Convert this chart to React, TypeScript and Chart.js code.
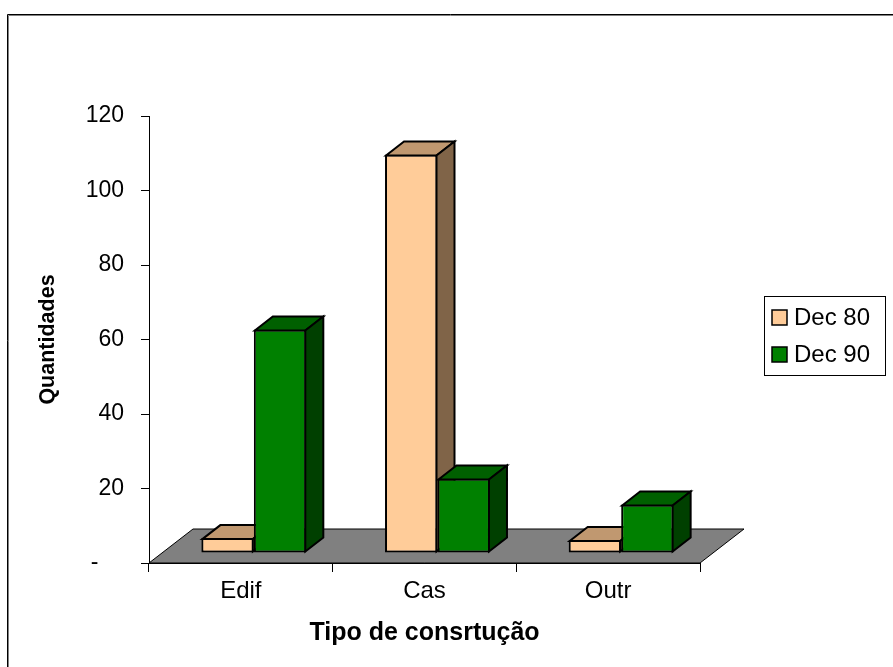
import React, { useEffect, useRef } from 'react';
import { Chart, registerables } from 'chart.js';

Chart.register(...registerables);

// Data
const categories = ['Edif', 'Cas', 'Outr'];
const seriesLabels = ['Dec 80', 'Dec 90'];
const dec80 = [4, 107, 3.5];
const dec90 = [60, 20, 13];
const yTickValues = [0, 20, 40, 60, 80, 100, 120];
const yTitle = 'Quantidades';
const xTitle = 'Tipo de consrtução';

// Styling
const FONT = "'Liberation Sans', Arial, Helvetica, sans-serif";
const FRONT = ['#FFCC99', '#008000'];
const TOP = ['#C09870', '#006000'];
const SIDE = ['#806448', '#004000'];
const FLOOR_DX = 44;
const FLOOR_DY = 34;
const BAR_FX = 13; // shift of bar front faces into the floor depth
const BAR_FY = 10;
const BAR_DX = 18; // bar depth
const BAR_DY = 14;

const threeDPlugin = {
  id: 'threeD',
  beforeDatasetsDraw(chart: any) {
    const { ctx, chartArea: a } = chart;
    ctx.save();
    ctx.beginPath();
    ctx.moveTo(a.left, a.bottom);
    ctx.lineTo(a.right, a.bottom);
    ctx.lineTo(a.right + FLOOR_DX, a.bottom - FLOOR_DY);
    ctx.lineTo(a.left + FLOOR_DX, a.bottom - FLOOR_DY);
    ctx.closePath();
    ctx.fillStyle = '#808080';
    ctx.fill();
    ctx.strokeStyle = '#000';
    ctx.lineWidth = 1;
    ctx.stroke();
    ctx.restore();
  },
  beforeDatasetDraw() {
    // bars are painted below, series by series, with their 3D faces
    return false;
  },
  afterDatasetsDraw(chart: any) {
    const ctx = chart.ctx;
    chart.data.datasets.forEach((_: any, i: number) => {
      const meta = chart.getDatasetMeta(i);
      if (meta.hidden) return;
      ctx.save();
      ctx.translate(BAR_FX, -BAR_FY);
      meta.data.forEach((el: any) => {
        el.draw(ctx, chart.chartArea);
        const { x, y, base, width } = el.getProps(['x', 'y', 'base', 'width'], true);
        const l = x - width / 2 + 1;
        const r = x + width / 2 - 1;
        const t = y + 1;
        const b = base - 1;
        ctx.lineWidth = 2;
        ctx.strokeStyle = '#000';
        ctx.lineJoin = 'miter';
        // top face
        ctx.beginPath();
        ctx.moveTo(l, t);
        ctx.lineTo(l + BAR_DX, t - BAR_DY);
        ctx.lineTo(r + BAR_DX, t - BAR_DY);
        ctx.lineTo(r, t);
        ctx.closePath();
        ctx.fillStyle = TOP[i];
        ctx.fill();
        ctx.stroke();
        // side face
        ctx.beginPath();
        ctx.moveTo(r, t);
        ctx.lineTo(r + BAR_DX, t - BAR_DY);
        ctx.lineTo(r + BAR_DX, b - BAR_DY);
        ctx.lineTo(r, b);
        ctx.closePath();
        ctx.fillStyle = SIDE[i];
        ctx.fill();
        ctx.stroke();
      });
      ctx.restore();
    });
  },
  afterDraw(chart: any) {
    const ctx = chart.ctx;
    ctx.save();
    // outer frame
    ctx.lineWidth = 1;
    ctx.strokeStyle = '#000';
    ctx.beginPath();
    ctx.moveTo(7.5, 667);
    ctx.lineTo(7.5, 14.5);
    ctx.lineTo(893, 14.5);
    ctx.stroke();
    ctx.strokeStyle = '#808080';
    ctx.beginPath();
    ctx.moveTo(8.5, 667);
    ctx.lineTo(8.5, 15.5);
    ctx.lineTo(893, 15.5);
    ctx.stroke();

    // legend
    const lx = 764, ly = 296, lw = 121, lh = 79;
    ctx.fillStyle = '#fff';
    ctx.fillRect(lx, ly, lw, lh);
    ctx.strokeStyle = '#000';
    ctx.lineWidth = 1;
    ctx.strokeRect(lx + 0.5, ly + 0.5, lw, lh);
    ctx.font = `24px ${FONT}`;
    ctx.textBaseline = 'middle';
    ctx.textAlign = 'left';
    chart.data.datasets.forEach((ds: any, i: number) => {
      const cy = 317.5 + i * 37;
      ctx.fillStyle = ds.backgroundColor;
      ctx.fillRect(772, cy - 7.5, 15, 15);
      ctx.lineWidth = 1.5;
      ctx.strokeStyle = '#000';
      ctx.strokeRect(772, cy - 7.5, 15, 15);
      ctx.fillStyle = '#000';
      ctx.fillText(ds.label, 794, cy + 1);
    });
    ctx.restore();
  },
};

export default function App() {
  const canvasRef = useRef<HTMLCanvasElement | null>(null);

  useEffect(() => {
    const canvas = canvasRef.current;
    if (!canvas) return;
    const chart = new Chart(canvas, {
      type: 'bar',
      data: {
        labels: categories,
        datasets: [
          {
            label: seriesLabels[0],
            data: dec80,
            backgroundColor: FRONT[0],
            borderColor: '#000',
            borderWidth: 2,
            borderSkipped: false,
          },
          {
            label: seriesLabels[1],
            data: dec90,
            backgroundColor: FRONT[1],
            borderColor: '#000',
            borderWidth: 2,
            borderSkipped: false,
          },
        ],
      },
      options: {
        responsive: false,
        animation: false,
        events: [],
        layout: { padding: { left: 0, top: 116, right: 193, bottom: 0 } },
        datasets: {
          bar: { barPercentage: 1, categoryPercentage: 2 / 3.5 },
        },
        plugins: {
          legend: { display: false },
          tooltip: { enabled: false },
        },
        scales: {
          x: {
            type: 'category',
            grid: {
              display: true,
              drawOnChartArea: false,
              drawTicks: true,
              tickLength: 9,
              color: '#000',
              offset: true,
            },
            border: { display: true, color: '#000', width: 1 },
            ticks: {
              color: '#000',
              font: { family: FONT, size: 24 },
              padding: 5,
              maxRotation: 0,
            },
            title: {
              display: true,
              text: xTitle,
              color: '#000',
              font: { family: FONT, size: 25, weight: 'bold' },
              padding: { top: 0, bottom: 19 },
            },
            afterFit(scale: any) {
              scale.height = 104;
            },
          },
          y: {
            min: 0,
            max: 120,
            afterBuildTicks(scale: any) {
              scale.ticks = yTickValues.map((v) => ({ value: v }));
            },
            grid: {
              display: true,
              drawOnChartArea: false,
              drawTicks: true,
              tickLength: 8,
              color: '#000',
            },
            border: { display: true, color: '#000', width: 1 },
            ticks: {
              color: '#000',
              font: { family: FONT, size: 23 },
              padding: 17,
              callback: (v: any) => (Number(v) === 0 ? '-    ' : String(v)),
            },
            title: {
              display: true,
              text: yTitle,
              color: '#000',
              font: { family: FONT, size: 21.5, weight: 'bold' },
              padding: { top: 35, bottom: 0 },
            },
            afterFit(scale: any) {
              scale.width = 149;
            },
          },
        },
      },
      plugins: [threeDPlugin],
    });
    return () => chart.destroy();
  }, []);

  return (
    <div style={{ position: 'absolute', left: 0, top: 0, width: 893, height: 667, background: '#fff' }}>
      <canvas ref={canvasRef} width={893} height={667} style={{ display: 'block' }} />
    </div>
  );
}
